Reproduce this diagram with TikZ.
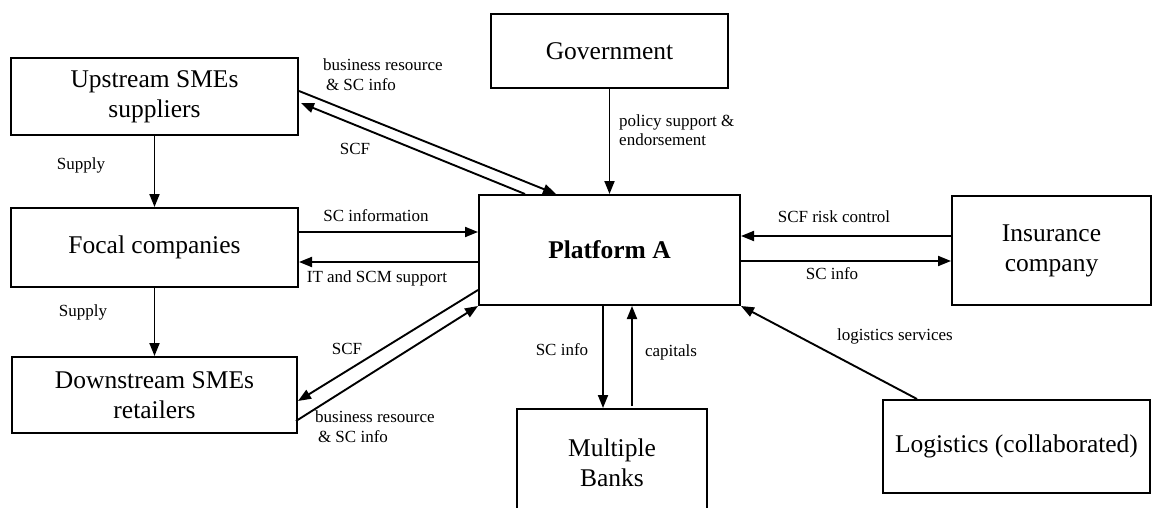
\documentclass[tikz,border=0pt]{standalone}
\usepackage{fontspec}
\setmainfont{Liberation Serif}
\usetikzlibrary{arrows.meta,calc}
\begin{document}
\begin{tikzpicture}[x=1pt,y=-1pt,
  box/.style={draw, line width=2pt, inner sep=0pt, align=center,
    font=\fontsize{25.5}{30}\selectfont},
  lbl/.style={inner sep=0pt, align=left, font=\fontsize{17}{19.5}\selectfont},
  arr/.style={line width=1.9pt, -{Triangle[length=13pt,width=10pt]}},
  ]
\useasboundingbox (0,0) rectangle (1153,508);

% actors
\node[box, minimum width=287, minimum height=77] (up)    at (154.5,96.5) {Upstream SMEs\\suppliers};
\node[box, minimum width=287, minimum height=79] (focal) at (154.5,247.5) {Focal companies};
\node[box, minimum width=285, minimum height=76] (down)  at (154.5,395)  {Downstream SMEs\\retailers};
\node[box, minimum width=237, minimum height=74] (gov)   at (609.5,51)   {Government};
\node[box, minimum width=261, minimum height=110] (plat)  at (609.5,250)  {\textbf{Platform A}};
\node[box, minimum width=199, minimum height=109] (ins)   at (1051.5,250.5) {Insurance\\company};
\node[box, minimum width=190, minimum height=108] (banks) at (612,463)    {Multiple\\Banks};
\node[box, minimum width=267, minimum height=93] (logi)  at (1016.5,446.5) {Logistics (collaborated)};

% supply chain
\draw[arr] (up.south) -- (up.south |- focal.north);
\draw[arr] (focal.south) -- (focal.south |- down.north);
\node[lbl] (sup1) at (81,165) {Supply};
\node[lbl] (sup2) at (83,312) {Supply};

% upstream <-> platform
\draw[arr] ($(up.east)+(0,-5.5)$) -- ($(plat.north)+(-53.5,0)$);
\draw[arr] ($(plat.north)+(-84.5,0)$) -- ($(up.east)+(2,6.5)$);
\node[lbl, anchor=west] (bru) at (323,74.5) {business resource\\ \,\& SC info};
\node[lbl] (scfu) at (355,149) {SCF};

% focal <-> platform
\draw[arr] ($(focal.east)+(0,-15.5)$) coordinate (f1) -- (f1 -| plat.west);
\draw[arr] ($(plat.west)+(0,12)$) coordinate (f2) -- (f2 -| focal.east);
\node[lbl] (sci) at (376,216) {SC information};
\node[lbl] (its) at (377,278) {IT and SCM support};

% downstream <-> platform
\draw[arr] ($(plat.west)+(0,40)$) -- ($(down.east)+(0,6)$);
\draw[arr] ($(down.east)+(-2,26)$) -- (plat.south west);
\node[lbl] (scfd) at (347,349) {SCF};
\node[lbl, anchor=west] (brd) at (315,426.5) {business resource\\ \,\& SC info};

% government
\draw[arr] (gov.south) -- (plat.north);
\node[lbl, anchor=west] (pol) at (619,130) {policy support \&\\endorsement};

% banks
\draw[arr] ($(plat.south)+(-6.5,0)$) coordinate (b1) -- (b1 |- banks.north);
\draw[arr] ($(banks.north)+(20,-2)$) coordinate (b2) -- (b2 |- plat.south);
\node[lbl] (bsc) at (562,350) {SC info};
\node[lbl] (cap) at (671,352) {capitals};

% insurance
\draw[arr] ($(ins.west)+(0,-14.5)$) coordinate (i1) -- (i1 -| plat.east);
\draw[arr] ($(plat.east)+(0,11)$) coordinate (i2) -- (i2 -| ins.west);
\node[lbl] (scf) at (834,217) {SCF risk control};
\node[lbl] (isc) at (832,274) {SC info};

% logistics
\draw[arr] ($(logi.north)+(-99.5,0)$) -- (plat.south east);
\node[lbl] (lgs) at (895,336) {logistics services};
\end{tikzpicture}
\end{document}
